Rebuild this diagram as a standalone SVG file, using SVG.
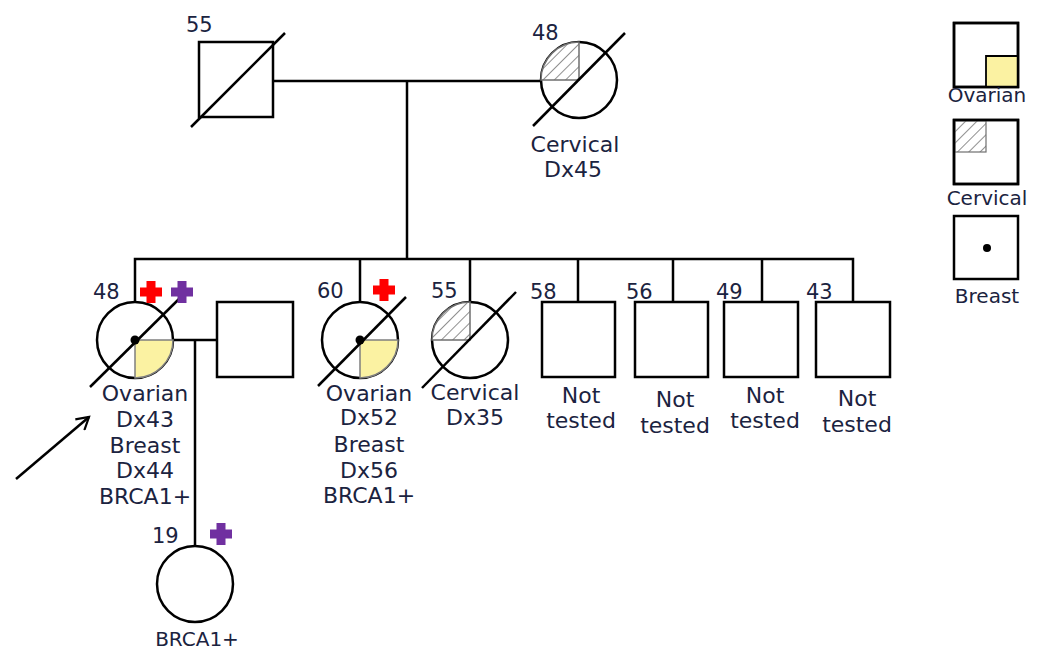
<svg xmlns="http://www.w3.org/2000/svg" width="1038" height="651" viewBox="0 0 1038 651">
<style>
  .sym { fill: #ffffff; stroke: #000000; stroke-width: 2.5; }
  .ln { fill: none; stroke: #000000; stroke-width: 2.5; }
  .dec { fill: none; stroke: #000000; stroke-width: 2.5; }
  .ov { fill: #fbf2a2; stroke: #7f7f7f; stroke-width: 1.5; }
  .cv { fill: url(#hatch); stroke: #6f6f6f; stroke-width: 1.5; }
  .dot { fill: #000000; }
  .t { font-family: "DejaVu Sans", "Liberation Sans", sans-serif; font-size: 22px; fill: #1b2340; }
  .n { font-family: "DejaVu Sans", "Liberation Sans", sans-serif; font-size: 21px; fill: #1b2340; }
  .lg { font-family: "DejaVu Sans", "Liberation Sans", sans-serif; font-size: 20px; fill: #1b2340; text-anchor: middle; }
  .c { text-anchor: middle; }
  .red { fill: #ff0000; }
  .pur { fill: #7030a0; }
</style>
<defs>
  <pattern id="hatch" patternUnits="userSpaceOnUse" width="8" height="8" patternTransform="rotate(45)">
    <rect width="8" height="8" fill="#ffffff"/>
    <line x1="0" y1="0" x2="0" y2="8" stroke="#606060" stroke-width="1.4"/>
  </pattern>
  <path id="cross" d="M-4.5,-11 H4.5 V-4.5 H11 V4.5 H4.5 V11 H-4.5 V4.5 H-11 V-4.5 H-4.5 Z" stroke-linejoin="round"/>
  <marker id="openArrow" markerWidth="16" markerHeight="16" refX="13" refY="8" orient="auto" markerUnits="userSpaceOnUse">
    <path d="M1,1 L13,8 L1,15" fill="none" stroke="#000000" stroke-width="2.2"/>
  </marker>
</defs>

<g id="connectors">
  <line class="ln" x1="273" y1="81" x2="541" y2="81"/>
  <line class="ln" x1="407" y1="81" x2="407" y2="259"/>
  <polyline class="ln" points="135,302 135,259 853,259 853,302"/>
  <line class="ln" x1="360" y1="259" x2="360" y2="302"/>
  <line class="ln" x1="470" y1="259" x2="470" y2="302"/>
  <line class="ln" x1="578" y1="259" x2="578" y2="302"/>
  <line class="ln" x1="673" y1="259" x2="673" y2="302"/>
  <line class="ln" x1="762" y1="259" x2="762" y2="302"/>
  <line class="ln" x1="173" y1="340" x2="217" y2="340"/>
  <line class="ln" x1="195" y1="340" x2="195" y2="546"/>
  <line class="ln" x1="16" y1="479" x2="89" y2="417" marker-end="url(#openArrow)"/>
</g>

<g id="father">
  <rect class="sym" x="199" y="42" width="74" height="75"/>
  <line class="dec" x1="191" y1="127" x2="285" y2="33"/>
  <text class="n" x="186" y="32">55</text>
</g>

<g id="mother">
  <circle class="sym" cx="579" cy="80" r="38"/>
  <path class="cv" d="M579,80 L541,80 A38,38 0 0 1 579,42 Z"/>
  <line class="dec" x1="533" y1="126" x2="625" y2="33"/>
  <text class="n" x="532" y="40">48</text>
  <text class="t c" x="575" y="152">Cervical</text>
  <text class="t c" x="573" y="177">Dx45</text>
</g>

<g id="proband">
  <circle class="sym" cx="135" cy="340" r="38"/>
  <path class="ov" d="M135,340 L173,340 A38,38 0 0 1 135,378 Z"/>
  <line class="dec" x1="90" y1="387" x2="181" y2="297"/>
  <circle class="dot" cx="135" cy="340" r="4.5"/>
  <use href="#cross" class="red" x="151" y="292"/>
  <use href="#cross" class="pur" x="182" y="292"/>
  <text class="n" x="93" y="299">48</text>
  <text class="t c" x="145" y="401">Ovarian</text>
  <text class="t c" x="145" y="427">Dx43</text>
  <text class="t c" x="145" y="453">Breast</text>
  <text class="t c" x="145" y="478">Dx44</text>
  <text class="t c" x="145" y="504">BRCA1+</text>
</g>

<g id="spouse">
  <rect class="sym" x="217" y="302" width="76" height="75"/>
</g>

<g id="sister60">
  <circle class="sym" cx="360" cy="340" r="38"/>
  <path class="ov" d="M360,340 L398,340 A38,38 0 0 1 360,378 Z"/>
  <line class="dec" x1="318" y1="386" x2="406" y2="297"/>
  <circle class="dot" cx="360" cy="340" r="4.5"/>
  <use href="#cross" class="red" x="384" y="290"/>
  <text class="n" x="317" y="298">60</text>
  <text class="t c" x="369" y="401">Ovarian</text>
  <text class="t c" x="369" y="425">Dx52</text>
  <text class="t c" x="369" y="452">Breast</text>
  <text class="t c" x="369" y="478">Dx56</text>
  <text class="t c" x="369" y="503">BRCA1+</text>
</g>

<g id="sister55">
  <circle class="sym" cx="470" cy="340" r="38"/>
  <path class="cv" d="M470,340 L432,340 A38,38 0 0 1 470,302 Z"/>
  <line class="dec" x1="422" y1="388" x2="516" y2="292"/>
  <text class="n" x="431" y="298">55</text>
  <text class="t c" x="475" y="400">Cervical</text>
  <text class="t c" x="475" y="425">Dx35</text>
</g>

<g id="brother58">
  <rect class="sym" x="542" y="302" width="73" height="75"/>
  <text class="n" x="530" y="299">58</text>
  <text class="t c" x="581" y="403">Not</text>
  <text class="t c" x="581" y="428">tested</text>
</g>

<g id="brother56">
  <rect class="sym" x="635" y="302" width="73" height="75"/>
  <text class="n" x="626" y="299">56</text>
  <text class="t c" x="675" y="407">Not</text>
  <text class="t c" x="675" y="433">tested</text>
</g>

<g id="brother49">
  <rect class="sym" x="724" y="302" width="74" height="75"/>
  <text class="n" x="716" y="299">49</text>
  <text class="t c" x="765" y="403">Not</text>
  <text class="t c" x="765" y="428">tested</text>
</g>

<g id="brother43">
  <rect class="sym" x="816" y="302" width="74" height="75"/>
  <text class="n" x="806" y="299">43</text>
  <text class="t c" x="857" y="406">Not</text>
  <text class="t c" x="857" y="432">tested</text>
</g>

<g id="daughter">
  <circle class="sym" cx="195" cy="584" r="38"/>
  <use href="#cross" class="pur" x="221" y="534"/>
  <text class="n" x="152" y="543">19</text>
  <text class="lg" x="197" y="646">BRCA1+</text>
</g>

<g id="legend-ovarian">
  <rect class="sym" x="954" y="23" width="64" height="64"/>
  <rect x="986" y="56" width="31" height="30" fill="#fbf2a2"/>
  <polyline class="ln" points="986,86 986,56 1018,56" style="stroke-width:1.8"/>
  <rect class="ln" x="954" y="23" width="64" height="64"/>
  <text class="lg" x="987" y="102">Ovarian</text>
</g>

<g id="legend-cervical">
  <rect class="sym" x="954" y="120" width="64" height="64"/>
  <rect x="955" y="121" width="31" height="31" fill="url(#hatch)" stroke="#6f6f6f" stroke-width="1.2"/>
  <rect class="ln" x="954" y="120" width="64" height="64"/>
  <text class="lg" x="987" y="205">Cervical</text>
</g>

<g id="legend-breast">
  <rect class="sym" x="954" y="216" width="64" height="63"/>
  <circle class="dot" cx="987" cy="248" r="4"/>
  <text class="lg" x="987" y="303">Breast</text>
</g>
</svg>
